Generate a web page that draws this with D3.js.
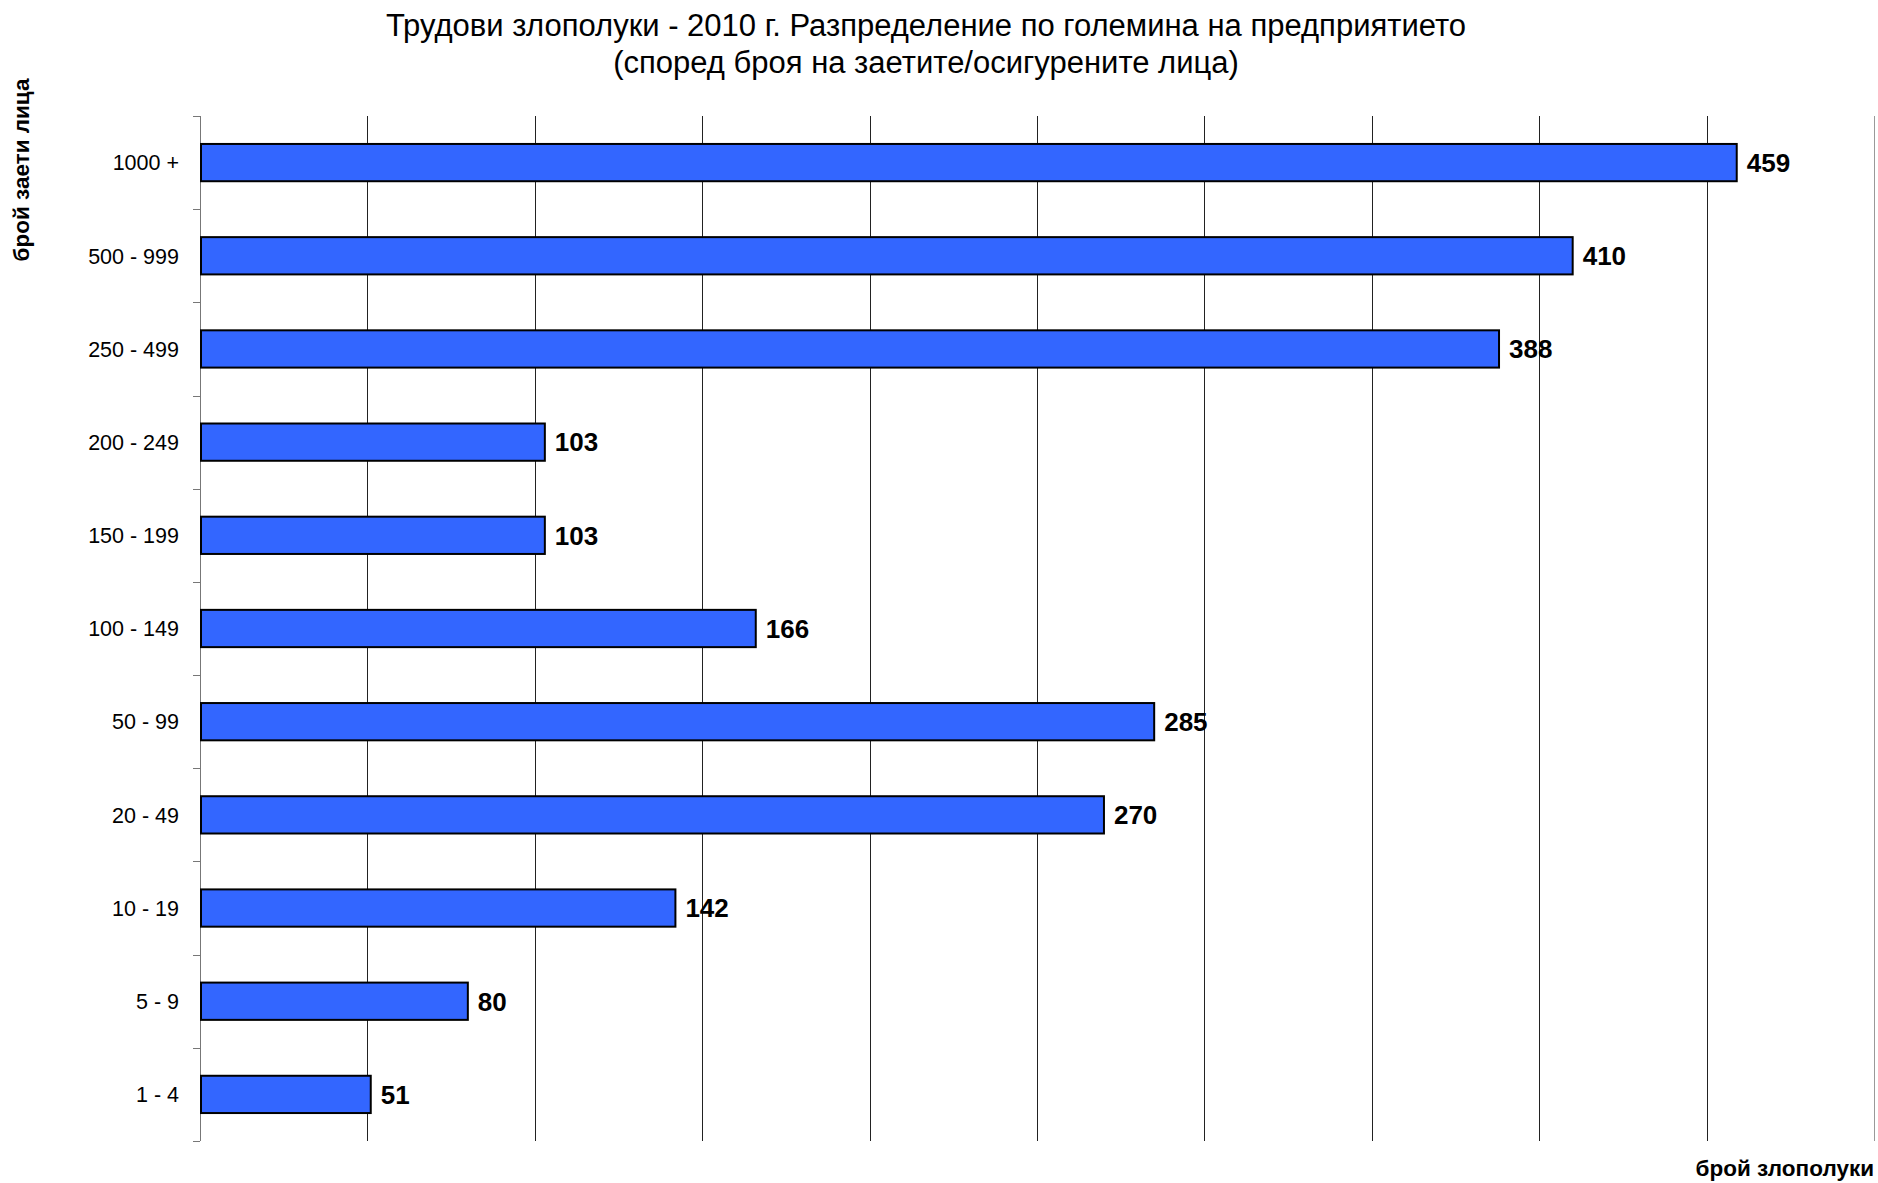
<!DOCTYPE html>
<html>
<head>
<meta charset="utf-8">
<script src="https://cdn.jsdelivr.net/npm/d3@7"></script>
<style>
  html, body { margin: 0; padding: 0; background: #fff; }
  svg { display: block; font-family: "Liberation Sans", Arial, sans-serif; }
</style>
</head>
<body>
<svg id="chart" width="1878" height="1183"></svg>
<script>
const categories = ["1000 +", "500 - 999", "250 - 499", "200 - 249", "150 - 199", "100 - 149", "50 - 99", "20 - 49", "10 - 19", "5 - 9", "1 - 4"];
const values = [459, 410, 388, 103, 103, 166, 285, 270, 142, 80, 51];
const xTicks = [0, 50, 100, 150, 200, 250, 300, 350, 400, 450, 500];
const titleLines = ["Трудови злополуки - 2010 г. Разпределение по големина на предприятието", "(според броя на заетите/осигурените лица)"];
const yAxisTitle = "брой заети лица";
const xAxisTitle = "брой злополуки";

const W = 1878, H = 1183;
const margin = { left: 200, right: 4, top: 116, bottom: 42 };
const svg = d3.select("#chart");

const x = d3.scaleLinear().domain([0, 500]).range([margin.left, W - margin.right]);
const y = d3.scaleBand().domain(categories).range([margin.top, H - margin.bottom])
  .paddingInner(0.6).paddingOuter(0.3);
const yFull = d3.scaleBand().domain(categories).range([margin.top, H - margin.bottom]).padding(0);

// gridlines
svg.append("g").selectAll("line").data(xTicks.slice(1)).join("line")
  .attr("x1", d => Math.round(x(d)) + 0.5).attr("x2", d => Math.round(x(d)) + 0.5)
  .attr("y1", margin.top).attr("y2", H - margin.bottom)
  .attr("stroke", d => d === 500 ? "#999" : "#222").attr("stroke-width", 1);

// y axis line
svg.append("line")
  .attr("x1", Math.round(x(0)) + 0.5).attr("x2", Math.round(x(0)) + 0.5)
  .attr("y1", margin.top).attr("y2", H - margin.bottom)
  .attr("stroke", "#777").attr("stroke-width", 1);

// y ticks at band boundaries
const boundaries = categories.map(c => yFull(c)).concat([yFull(categories[categories.length - 1]) + yFull.bandwidth()]);
svg.append("g").selectAll("line").data(boundaries).join("line")
  .attr("x1", x(0) - 7).attr("x2", x(0))
  .attr("y1", d => Math.round(d) + 0.5).attr("y2", d => Math.round(d) + 0.5)
  .attr("stroke", "#777").attr("stroke-width", 1);

// bars
svg.append("g").selectAll("rect").data(categories).join("rect")
  .attr("x", x(0) + 1)
  .attr("y", d => y(d))
  .attr("width", (d, i) => x(values[i]) - x(0) - 1)
  .attr("height", y.bandwidth())
  .attr("fill", "#3366FF")
  .attr("stroke", "#000")
  .attr("stroke-width", 2);

// value labels
svg.append("g").selectAll("text").data(categories).join("text")
  .attr("x", (d, i) => x(values[i]) + 10)
  .attr("y", d => y(d) + y.bandwidth() / 2)
  .attr("dy", "0.36em")
  .attr("font-size", 26).attr("font-weight", "bold").attr("fill", "#000")
  .text((d, i) => values[i]);

// category labels
svg.append("g").selectAll("text").data(categories).join("text")
  .attr("x", 179)
  .attr("y", d => y(d) + y.bandwidth() / 2)
  .attr("dy", "0.36em")
  .attr("text-anchor", "end")
  .attr("font-size", 21.5).attr("fill", "#000")
  .text(d => d);

// title
svg.append("g").selectAll("text").data(titleLines).join("text")
  .attr("x", 926).attr("y", (d, i) => 36 + i * 37)
  .attr("text-anchor", "middle")
  .attr("font-size", 31).attr("fill", "#000")
  .text(d => d);

// axis titles
svg.append("text")
  .attr("transform", "translate(29,170) rotate(-90)")
  .attr("text-anchor", "middle")
  .attr("font-size", 22.5).attr("font-weight", "bold")
  .text(yAxisTitle);

svg.append("text")
  .attr("x", 1874).attr("y", 1176)
  .attr("text-anchor", "end")
  .attr("font-size", 22.5).attr("font-weight", "bold")
  .text(xAxisTitle);
</script>
</body>
</html>
